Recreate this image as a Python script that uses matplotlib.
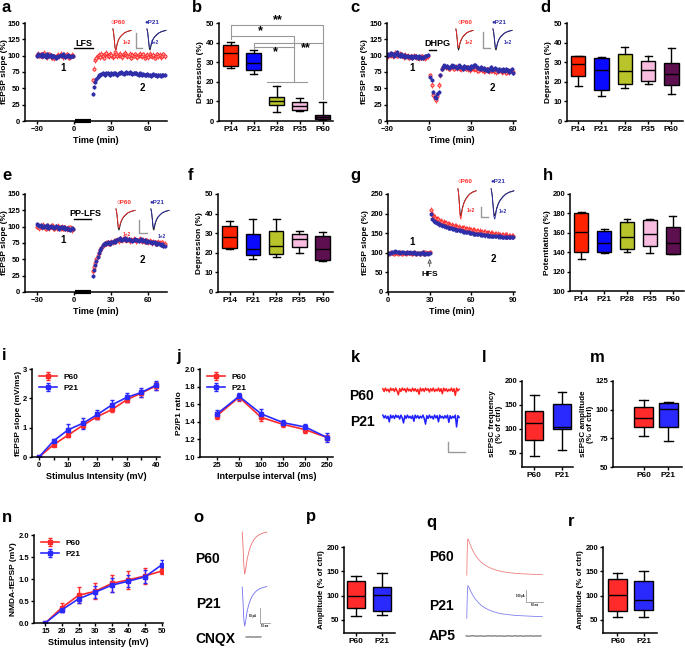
import numpy as np
import matplotlib
matplotlib.use('Agg')
import matplotlib.pyplot as plt
from matplotlib.lines import Line2D

plt.rcParams['font.family'] = ['Liberation Sans', 'DejaVu Sans']
plt.rcParams['font.weight'] = 'bold'
plt.rcParams['axes.labelweight'] = 'bold'

# ---------------- DATA ----------------
# panel a (LFS)
a_base_t0 = -30
a_post_t0 = 15
a_red_base = [101,103,100,102,99,101,104,100,98,101,102,100,97,99,96,98,100,101,99,103,100,98,101,99,102,100,97,99,101,100]
a_blue_base = [100,102,101,99,103,100,101,98,102,100,99,101,98,100,99,97,98,100,99,101,100,102,99,98,100,101,99,98,100,99]
a_red_post = [62,80,93,97,99,101,98,103,100,97,102,104,100,99,103,101,98,100,105,102,99,101,103,100,98,102,104,101,99,100,
              103,97,101,100,102,99,98,101,103,100,99,102,97,100,101,98,103,100,99,101,97,100,102,99,101,98,100,102,99]
a_blue_post = [42,52,60,65,68,70,71,72,73,72,71,73,74,72,71,73,72,74,73,72,71,73,74,75,73,72,74,75,74,73,
               75,74,72,73,74,73,72,71,73,72,71,72,70,71,72,70,71,69,70,72,71,70,69,70,71,69,70,71,70]
# panel c (DHPG)
c_base_t0 = -30
c_post_t0 = 1
c_red_base = [98,100,103,101,99,102,104,100,101,103,102,100,98,101,99,100,97,99,98,100,99,98,97,96,98,99,97,96,98,99]
c_blue_base = [100,103,101,104,102,100,103,105,101,100,102,99,101,98,100,99,98,100,97,99,98,100,97,99,96,98,97,100,99,101]
c_red_post = [70,55,40,35,32,38,55,70,80,83,84,82,83,80,81,84,82,80,83,81,82,80,79,81,83,80,82,79,78,80,
              81,79,80,78,77,79,80,78,76,77,79,78,76,77,78,76,77,75,76,78,77,75,76,77,74,76,75,77,76,75]
c_blue_post = [68,62,45,36,35,42,45,70,80,83,85,82,84,81,83,85,82,84,83,81,85,82,83,80,84,82,81,83,80,84,
               82,85,86,83,81,80,82,79,81,78,80,77,79,82,78,80,81,79,77,80,78,76,79,77,80,78,75,77,79,73]
# panel e (PP-LFS)
e_base_t0 = -30
e_post_t0 = 15
e_red_base = [100,102,98,101,99,103,100,97,99,101,98,100,102,99,97,100,98,101,99,98,100,97,99,98,96,98,97,99,95,97]
e_blue_base = [104,103,101,102,100,99,101,100,102,98,100,101,99,100,98,101,100,99,97,100,99,98,100,97,98,96,97,95,98,96]
e_red_post = [32,38,45,50,55,60,64,68,71,73,74,75,76,74,75,77,76,78,77,79,80,78,81,80,79,82,80,79,81,80,
              78,80,79,81,80,78,79,80,81,79,78,80,77,79,78,76,78,77,75,77,76,74,75,77,75,74,76,73,74]
e_blue_post = [25,33,42,48,54,59,64,68,72,74,75,73,76,75,74,76,77,78,76,80,79,81,83,80,79,81,82,80,79,81,
               80,79,78,80,81,79,80,78,79,81,79,78,80,77,76,78,77,76,75,77,76,74,73,75,74,72,73,71,70]
# panel g (HFS)
g_base_t0 = 0
g_post_t0 = 31
g_red_base = [100,98,101,99,97,100,102,98,99,101,97,99,100,98,101,99,100,97,99,101,98,100,99,97,100,102,98,101,99,100,103]
g_blue_base = [97,100,99,101,103,104,102,101,103,100,102,101,99,100,102,100,101,99,100,102,98,100,99,97,99,101,98,96,100,98,99]
g_red_post = [210,198,192,190,186,185,182,180,179,177,176,175,173,172,171,170,169,168,167,166,165,164,164,163,162,161,160,160,159,158,
              157,157,156,155,155,154,153,153,152,152,151,150,150,149,149,148,148,147,147,146,146,145,145,145,144,144,143,143,143,142]
g_blue_post = [200,186,181,179,177,175,173,172,170,169,168,166,165,164,163,162,161,160,159,158,158,157,156,155,154,153,153,152,151,151,
               150,149,149,148,148,147,147,146,146,145,145,145,144,144,144,143,143,143,142,142,142,141,141,141,141,140,140,140,140,140]
tc_red_sem = 4
tc_blue_sem = 3
g_post_sem = 8

# box plots: (min, q1, median, q3, max)
ages = ['P14', 'P21', 'P28', 'P35', 'P60']
b_stats = [(27, 28, 34.5, 39, 40.5), (24, 26, 29.5, 34.5, 36), (4.5, 8, 10, 12.5, 18), (5, 5.5, 7.5, 9.5, 11.5), (0.5, 1, 2, 3, 9.5)]
d_stats = [(18, 23, 29, 33, 33), (13, 16, 26, 32, 32.5), (17, 19, 25.5, 34, 38), (19, 20.5, 26, 30.5, 33), (14, 18.5, 24, 29.5, 37)]
f_stats = [(22, 22.5, 28, 33.5, 36), (17, 19, 22, 29.5, 37), (18, 19.5, 23.5, 31, 37), (20, 23, 27, 29.5, 31), (16, 16.5, 22, 28.5, 30.5)]
h_stats = [(133, 140, 161, 180, 181), (139, 140.5, 149, 162, 164), (140, 143, 156, 171, 174), (139, 146, 159, 173, 174), (138, 138, 149, 166, 177)]
groups2 = ['P60', 'P21']
l_stats = [(42, 77, 112, 137, 171), (56, 99, 104, 151, 176)]
m_stats = [(77, 85, 93, 102, 108), (73, 85, 101, 106, 107)]
p_stats = [(57, 74, 99, 131, 140), (60, 68, 101, 118, 146)]
r_stats = [(56, 69, 102, 135, 147), (55, 70, 91, 129, 151)]

# input-output / PPF / NMDA curves
i_x = [0, 5, 10, 15, 20, 25, 30, 35, 40]
i_p60 = [0, 0.42, 0.75, 1.08, 1.38, 1.62, 1.95, 2.18, 2.42]
i_p60_sem = [0.02, 0.06, 0.07, 0.1, 0.08, 0.08, 0.07, 0.12, 0.12]
i_p21 = [0, 0.55, 0.93, 1.15, 1.45, 1.78, 2.03, 2.2, 2.45]
i_p21_sem = [0.02, 0.07, 0.18, 0.18, 0.14, 0.15, 0.15, 0.15, 0.15]
j_labels = ['25', '50', '100', '150', '200', '250']
j_p60 = [1.47, 1.68, 1.45, 1.37, 1.31, 1.22]
j_p60_sem = [0.04, 0.04, 0.04, 0.03, 0.04, 0.03]
j_p21 = [1.49, 1.69, 1.49, 1.39, 1.34, 1.22]
j_p21_sem = [0.04, 0.04, 0.05, 0.03, 0.04, 0.05]
n_x = [15, 20, 25, 30, 35, 40, 45, 50]
n_p60 = [0, 0.35, 0.63, 0.72, 0.9, 0.98, 1.07, 1.18]
n_p60_sem = [0.01, 0.1, 0.18, 0.18, 0.2, 0.2, 0.18, 0.06]
n_p21 = [0, 0.3, 0.55, 0.7, 0.86, 0.95, 1.05, 1.32]
n_p21_sem = [0.01, 0.06, 0.1, 0.14, 0.16, 0.13, 0.15, 0.12]

# example traces
fepsp_t = [0, 1, 2, 3, 4, 5, 6, 8, 10, 13, 16, 20, 25]
fepsp_1 = [0.1, -0.1, -0.5, -0.9, -1.0, -0.85, -0.65, -0.45, -0.32, -0.2, -0.1, -0.03, 0.02]
fepsp_2 = [0.1, -0.08, -0.42, -0.78, -0.88, -0.76, -0.6, -0.42, -0.3, -0.18, -0.09, -0.02, 0.03]
k_p60 = [0.2,-0.3,0.3,-0.2,0.1,-0.4,0.3,-0.1,0.2,-0.3,0.3,-0.2,-0.9,0.2,-0.3,0.3,-0.1,0.2,-0.4,0.3,-0.2,0.1,-0.3,0.3,-0.2,0.2,-0.3,0.1,-0.8,0.3,
         -0.2,0.2,-0.3,0.3,-0.1,0.2,-0.4,0.2,-0.2,0.3,-0.3,0.1,-0.2,0.3,-0.3,0.2,-0.7,0.3,-0.2,0.2,-0.3,0.1,-0.2,0.3,-0.3,0.2,-1.0,0.3,-0.2,0.1]
k_p21 = [0.3,-0.2,0.2,-0.3,0.1,-0.9,0.3,-0.2,0.2,-0.3,0.3,-0.1,0.2,-0.4,0.3,-0.2,-1.1,0.2,-0.3,0.3,-0.2,0.1,-0.3,0.2,-0.8,0.3,-0.2,0.2,-0.3,0.1,
         -0.2,0.3,-0.3,-1.3,0.2,-0.3,0.3,-0.2,0.1,-0.4,0.3,-0.2,0.2,-0.9,0.3,-0.2,0.1,-0.3,0.2,-0.2,0.3,-1.0,0.2,-0.3,0.1,-0.2,0.3,-1.8,0.2,-0.1]
o_t = [0, 1, 2, 3, 4, 5, 6, 8, 10, 12, 15, 18, 22, 26, 30]
o_p60 = [0, -0.35, -0.8, -1.0, -0.92, -0.78, -0.65, -0.48, -0.35, -0.26, -0.16, -0.1, -0.05, -0.02, 0.0]
o_p21 = [0, -0.4, -0.85, -1.0, -0.9, -0.75, -0.62, -0.45, -0.33, -0.24, -0.15, -0.09, -0.04, -0.01, 0.01]
o_cnqx = [0.02, -0.03, 0.01, 0.03, -0.02, 0.0, 0.02, -0.04, 0.01, 0.02, -0.01, 0.03]
q_t = [0, 1, 2, 3, 5, 8, 12, 17, 23, 30, 38, 47, 57, 68, 80, 93, 107, 122, 138, 155, 172, 190]
q_p60 = [0, 0.6, 0.95, 1.0, 0.95, 0.86, 0.75, 0.64, 0.53, 0.43, 0.34, 0.27, 0.21, 0.16, 0.12, 0.09, 0.07, 0.05, 0.04, 0.03, 0.02, 0.02]
q_p21 = [0, 0.55, 0.92, 1.0, 0.96, 0.88, 0.78, 0.67, 0.57, 0.47, 0.38, 0.31, 0.25, 0.2, 0.16, 0.13, 0.11, 0.09, 0.08, 0.07, 0.06, 0.06]
q_ap5 = [0.02,-0.03,0.01,0.03,-0.02,0.0,0.02,-0.04,0.01,0.02,-0.01,0.03,-0.02,0.01,0.0,-0.03,0.02,0.01,-0.02,0.03,
         -0.01,0.02,-0.03,0.01,0.0,0.02,-0.02,0.01,-0.01,0.02]

# ---------------- STYLE ----------------
RED = '#FF2A2A'
NAVY = '#2E2EA8'
BLUE = '#2A2AFF'
AGE_COLORS = ['#FF2200', '#0A0AFF', '#B8C42A', '#F7BCE0', '#5E0F50']
GRAY = '#999999'
TICK_FS = 5.5

W, H = 685, 649
fig = plt.figure(figsize=(6.85, 6.49), dpi=100)


def box(l, t, r, b):
    return [l / W, 1 - b / H, (r - l) / W, (b - t) / H]


def fx(x):
    return x / W


def fy(y):
    return 1 - y / H


def ftext(x, y, s, size=6, color='black', ha='center', va='center', **kw):
    fig.text(fx(x), fy(y), s, fontsize=size, color=color, ha=ha, va=va, fontweight='bold', **kw)


def fline(xs, ys, color=GRAY, lw=1.0):
    fig.add_artist(Line2D([fx(v) for v in xs], [fy(v) for v in ys], color=color, lw=lw,
                          transform=fig.transFigure))


def new_axes(l, t, r, b):
    ax = fig.add_axes(box(l, t, r, b))
    for s in ['top', 'right']:
        ax.spines[s].set_visible(False)
    for s in ['left', 'bottom']:
        ax.spines[s].set_linewidth(1.1)
    ax.tick_params(labelsize=TICK_FS, width=1, length=2.2, pad=1.2)
    return ax


def ylab(ax, s, size=6):
    ax.set_ylabel(s, fontsize=size, labelpad=1, linespacing=1.0)


def xlab(ax, s, size=6.5):
    ax.set_xlabel(s, fontsize=size, labelpad=2.5)


def letter(x, y, s):
    ftext(x, y, s, size=12, ha='left', va='center')


def boxes(ax, stats, colors, labels, width=0.62, capw=0.3):
    st = [dict(whislo=s[0], q1=s[1], med=s[2], q3=s[3], whishi=s[4]) for s in stats]
    bp = ax.bxp(st, positions=list(range(len(st))), widths=width, showfliers=False, patch_artist=True,
                capwidths=capw,
                boxprops=dict(lw=1.0), medianprops=dict(color='black', lw=1.0),
                whiskerprops=dict(lw=1.0), capprops=dict(lw=1.0), manage_ticks=False)
    for patch, c in zip(bp['boxes'], colors):
        patch.set_facecolor(c)
    ax.set_xticks(list(range(len(st))))
    ax.set_xticklabels(labels)
    ax.tick_params(axis='x', labelsize=6)


def tc(ax, t0, vals, sem, color, filled):
    t = t0 + np.arange(len(vals))
    ax.errorbar(t, vals, yerr=sem, fmt='o', ms=2.2, color=color, mfc=color if filled else '#FFB0B0',
                mec=color, mew=0.7, elinewidth=0.6, capsize=0)


def inset(bx, t, black, col, color, ylim=(-1.1, 0.2)):
    ax = fig.add_axes(box(*bx))
    ax.plot(t, black, color='black', lw=0.6)
    ax.plot(t, col, color=color, lw=0.6)
    ax.set_ylim(*ylim)
    ax.axis('off')
    return ax


# ---------------- PANEL a ----------------
ax = new_axes(25, 23, 167, 121)
tc(ax, a_base_t0, a_red_base, tc_red_sem, RED, False)
tc(ax, a_base_t0, a_blue_base, tc_blue_sem, NAVY, True)
tc(ax, a_post_t0, a_red_post, tc_red_sem, RED, False)
tc(ax, a_post_t0, a_blue_post, tc_blue_sem, NAVY, True)
ax.set_xlim(-39.7, 75)
ax.set_ylim(0, 150)
ax.set_xticks([-30, 0, 30, 60])
ax.set_yticks([0, 25, 50, 75, 100, 125, 150])
ax.plot([1, 14], [0, 0], color='black', lw=3, solid_capstyle='butt', clip_on=False)
ax.plot([0, 15], [112, 112], color='black', lw=1)
ax.text(8, 119, 'LFS', fontsize=6.5, ha='center', va='center', fontweight='bold')
ax.text(-9, 81, '1', fontsize=7, ha='center', va='center', fontweight='bold')
ax.text(55, 50, '2', fontsize=7, ha='center', va='center', fontweight='bold')
xlab(ax, 'Time (min)')
ftext(4.5, 72, 'fEPSP slope (%)', size=6, rotation=90)
inset((112, 27, 132, 52), fepsp_t, fepsp_1, fepsp_1, RED)
inset((146, 27, 167, 52), fepsp_t, fepsp_1, fepsp_2, NAVY)
ftext(118, 23, '○P60', size=4.5, color=RED)
ftext(152, 23, '●P21', size=4.5, color=NAVY)
ftext(127, 43, '1+2', size=3.5, color=RED)
ftext(155, 43, '1+2', size=3.5, color=NAVY)
fline([136, 136, 142], [33, 48, 48])
letter(2, 8, 'a')

# ---------------- PANEL c ----------------
ax = new_axes(387, 23, 516, 121)
tc(ax, c_base_t0, c_red_base, tc_red_sem, RED, False)
tc(ax, c_base_t0, c_blue_base, tc_blue_sem, NAVY, True)
tc(ax, c_post_t0, c_red_post, tc_red_sem, RED, False)
tc(ax, c_post_t0, c_blue_post, tc_blue_sem, NAVY, True)
ax.set_xlim(-30, 62)
ax.set_ylim(0, 150)
ax.set_xticks([-30, 0, 30, 60])
ax.set_yticks([0, 25, 50, 75, 100, 125, 150])
ax.plot([0, 5], [108, 108], color='black', lw=1)
ax.text(6, 119, 'DHPG', fontsize=6.5, ha='center', va='center', fontweight='bold')
ax.text(-12, 81, '1', fontsize=7, ha='center', va='center', fontweight='bold')
ax.text(45, 50, '2', fontsize=7, ha='center', va='center', fontweight='bold')
xlab(ax, 'Time (min)')
ylab(ax, 'fEPSP slope (%)')
inset((455, 27, 474, 52), fepsp_t, fepsp_1, fepsp_2, RED)
inset((492, 27, 513, 52), fepsp_t, fepsp_1, fepsp_2, NAVY)
ftext(465, 23, '○P60', size=4.5, color=RED)
ftext(499, 23, '●P21', size=4.5, color=NAVY)
ftext(469, 43, '1+2', size=3.5, color=RED)
ftext(508, 43, '1+2', size=3.5, color=NAVY)
fline([483, 483, 490], [32, 48, 48])
letter(350, 8, 'c')

# ---------------- PANEL e ----------------
ax = new_axes(25, 194, 167, 292)
tc(ax, e_base_t0, e_red_base, tc_red_sem, RED, False)
tc(ax, e_base_t0, e_blue_base, tc_blue_sem, NAVY, True)
tc(ax, e_post_t0, e_red_post, tc_red_sem, RED, False)
tc(ax, e_post_t0, e_blue_post, tc_blue_sem, NAVY, True)
ax.set_xlim(-39.7, 75)
ax.set_ylim(0, 150)
ax.set_xticks([-30, 0, 30, 60])
ax.set_yticks([0, 25, 50, 75, 100, 125, 150])
ax.plot([1, 14], [0, 0], color='black', lw=3, solid_capstyle='butt', clip_on=False)
ax.plot([0, 14], [112, 112], color='black', lw=1)
ax.text(9, 120, 'PP-LFS', fontsize=6.5, ha='center', va='center', fontweight='bold')
ax.text(-9, 80, '1', fontsize=7, ha='center', va='center', fontweight='bold')
ax.text(55, 49, '2', fontsize=7, ha='center', va='center', fontweight='bold')
xlab(ax, 'Time (min)')
ftext(4.5, 243, 'fEPSP slope (%)', size=6, rotation=90)
inset((115, 207, 136, 232), fepsp_t, fepsp_1, fepsp_2, RED)
inset((150, 207, 170, 232), fepsp_t, fepsp_1, fepsp_2, NAVY)
ftext(124, 203, '○P60', size=4.5, color=RED)
ftext(157, 203, '●P21', size=4.5, color=NAVY)
ftext(127, 234, '1+2', size=3.5, color=RED)
ftext(162, 236, '1+2', size=3.5, color=NAVY)
fline([139, 139, 147], [220, 233, 233])
letter(2, 176, 'e')

# ---------------- PANEL g ----------------
ax = new_axes(388, 194, 515, 292)
tc(ax, g_base_t0, g_red_base, tc_red_sem, RED, False)
tc(ax, g_base_t0, g_blue_base, tc_blue_sem, NAVY, True)
tc(ax, g_post_t0, g_red_post, g_post_sem, RED, False)
tc(ax, g_post_t0, g_blue_post, g_post_sem - 2, NAVY, True)
ax.set_xlim(0, 91.5)
ax.set_ylim(0, 250)
ax.set_xticks([0, 30, 60, 90])
ax.set_yticks([0, 50, 100, 150, 200, 250])
ax.annotate('', xy=(30, 92), xytext=(30, 58),
            arrowprops=dict(arrowstyle='-|>', fc='white', ec='#555555', lw=0.7, mutation_scale=6))
ax.text(30, 45, 'HFS', fontsize=6, ha='center', va='center', fontweight='bold')
ax.text(17.5, 127, '1', fontsize=7, ha='center', va='center', fontweight='bold')
ax.text(76, 84, '2', fontsize=7, ha='center', va='center', fontweight='bold')
xlab(ax, 'Time (min)')
ylab(ax, 'fEPSP slope (%)')
inset((457, 186, 477, 222), fepsp_t, fepsp_2, fepsp_1, RED)
inset((490, 186, 515, 222), fepsp_t, fepsp_2, fepsp_1, NAVY)
ftext(465, 182, '○P60', size=4.5, color=RED)
ftext(498, 182, '●P21', size=4.5, color=NAVY)
ftext(471, 210, '1+2', size=3.5, color=RED)
ftext(503, 212, '1+2', size=3.5, color=NAVY)
fline([481, 481, 488], [207, 217, 217])
letter(350, 176, 'g')

# ---------------- PANEL b ----------------
ax = new_axes(219, 23, 333, 121)
boxes(ax, b_stats, AGE_COLORS, ages)
ax.set_xlim(-0.5, 4.45)
ax.set_ylim(0, 50)
ax.set_yticks([0, 10, 20, 30, 40, 50])
ylab(ax, 'Depression (%)')
kw = dict(color=GRAY, lw=0.8, clip_on=False)
ax.plot([0, 0, 4, 4], [42, 49, 49, 11], **kw)
ax.plot([0, 2.75, 2.75], [43.5, 43.5, 20], **kw)
ax.plot([1.6, 3.3], [20, 20], **kw)
ax.plot([1, 1, 4], [37, 40, 40], **kw)
ax.plot([1, 2.75], [38, 38], **kw)
ax.text(2.05, 51.5, '**', fontsize=9, ha='center', va='center', fontweight='bold')
ax.text(1.3, 46, '*', fontsize=9, ha='center', va='center', fontweight='bold')
ax.text(1.95, 35, '*', fontsize=9, ha='center', va='center', fontweight='bold')
ax.text(3.25, 37.2, '**', fontsize=9, ha='center', va='center', fontweight='bold')
letter(192, 8, 'b')

# ---------------- PANEL d ----------------
ax = new_axes(567, 23, 683, 121)
boxes(ax, d_stats, AGE_COLORS, ages)
ax.set_xlim(-0.48, 4.5)
ax.set_ylim(0, 50)
ax.set_yticks([0, 10, 20, 30, 40, 50])
ylab(ax, 'Depression (%)')
letter(540, 8, 'd')

# ---------------- PANEL f ----------------
ax = new_axes(218, 194, 333, 292)
boxes(ax, f_stats, AGE_COLORS, ages)
ax.set_xlim(-0.5, 4.45)
ax.set_ylim(0, 50)
ax.set_yticks([0, 10, 20, 30, 40, 50])
ylab(ax, 'Depression (%)')
letter(188, 176, 'f')

# ---------------- PANEL h ----------------
ax = new_axes(570, 194, 684, 291)
boxes(ax, h_stats, AGE_COLORS, ages)
ax.set_xlim(-0.5, 4.5)
ax.set_ylim(100, 200)
ax.set_yticks([100, 120, 140, 160, 180, 200])
ylab(ax, 'Potentiation (%)')
letter(543, 176, 'h')


def curves(ax, x, y1, e1, y2, e2):
    ax.errorbar(x, y1, yerr=e1, color=RED, marker='s', ms=3, lw=1.2, capsize=1.5, elinewidth=1, label='P60')
    ax.errorbar(x, y2, yerr=e2, color=BLUE, marker='s', ms=3, lw=1.2, capsize=1.5, elinewidth=1, label='P21')
    ax.legend(frameon=False, fontsize=6, loc='upper left', handlelength=2.2,
              borderaxespad=0.1, labelspacing=0.4, bbox_to_anchor=(0.02, 1.0))


# ---------------- PANEL i ----------------
ax = new_axes(32, 369, 160, 457)
curves(ax, i_x, i_p60, i_p60_sem, i_p21, i_p21_sem)
ax.set_xlim(-2.4, 41.4)
ax.set_ylim(0, 3)
ax.set_xticks([0, 10, 20, 30, 40])
ax.set_xticks([5, 15, 25, 35], minor=True)
ax.tick_params(which='minor', length=2, width=1)
ax.set_yticks([0, 1, 2, 3])
xlab(ax, 'Stimulus Intensity (mV)')
ylab(ax, 'fEPSP slope (mV/ms)')
letter(2, 355, 'i')

# ---------------- PANEL j ----------------
ax = new_axes(200, 369, 333, 457)
curves(ax, list(range(len(j_labels))), j_p60, j_p60_sem, j_p21, j_p21_sem)
ax.set_xlim(-0.77, 5.25)
ax.set_ylim(1.0, 2.0)
ax.set_xticks(list(range(len(j_labels))))
ax.set_xticklabels(j_labels)
ax.set_yticks([1.0, 1.2, 1.4, 1.6, 1.8, 2.0])
ax.set_yticklabels(['1.0', '1.2', '1.4', '1.6', '1.8', '2.0'])
xlab(ax, 'Interpulse interval (ms)')
ylab(ax, 'P2/P1 ratio')
letter(176, 357, 'j')

# ---------------- PANEL k ----------------
axk1 = fig.add_axes(box(379, 387, 463, 401))
axk1.plot(np.arange(len(k_p60)), k_p60, color='#FF2020', lw=1.1)
axk1.set_ylim(-2.0, 0.5)
axk1.axis('off')
axk2 = fig.add_axes(box(379, 414, 463, 428))
axk2.plot(np.arange(len(k_p21)), k_p21, color='#2020FF', lw=1.1)
axk2.set_ylim(-2.0, 0.5)
axk2.axis('off')
ftext(362, 396, 'P60', size=10)
ftext(362, 422, 'P21', size=10)
fline([448, 448, 465], [442, 452, 452])
letter(351, 357, 'k')

# ---------------- PANEL l ----------------
ax = new_axes(522, 381, 573, 467)
boxes(ax, l_stats, [RED, BLUE], groups2, width=0.65, capw=0.3)
ax.set_xlim(-0.45, 1.4)
ax.set_ylim(20, 200)
ax.set_yticks([50, 100, 150, 200])
ylab(ax, 'sEPSC frequency\n(% of ctrl)', size=5.8)
letter(482, 357, 'l')

# ---------------- PANEL m ----------------
ax = new_axes(613, 381, 682, 467)
boxes(ax, m_stats, [RED, BLUE], groups2, width=0.78, capw=0.35)
ax.set_xlim(-1.25, 1.55)
ax.set_ylim(50, 125)
ax.set_yticks([50, 75, 100, 125])
ylab(ax, 'sEPSC amplitude\n(% of ctrl)', size=5.8)
letter(590, 357, 'm')

# ---------------- PANEL n ----------------
ax = new_axes(34, 535, 163, 623)
curves(ax, n_x, n_p60, n_p60_sem, n_p21, n_p21_sem)
ax.set_xlim(11.6, 50.4)
ax.set_ylim(0, 2.0)
ax.set_xticks(n_x)
ax.set_yticks([0.0, 0.5, 1.0, 1.5, 2.0])
ax.set_yticklabels(['0.0', '0.5', '1.0', '1.5', '2.0'])
xlab(ax, 'Stimulus intensity (mV)')
ylab(ax, 'NMDA-fEPSP (mV)')
letter(2, 517, 'n')

# ---------------- PANEL o ----------------
axo1 = fig.add_axes(box(241, 530, 268, 576))
axo1.plot(o_t, o_p60, color='#F07070', lw=0.6)
axo1.set_ylim(-1.05, 0.05)
axo1.axis('off')
axo2 = fig.add_axes(box(241, 585, 268, 628))
axo2.plot(o_t, o_p21, color='#7070F0', lw=0.6)
axo2.set_ylim(-1.05, 0.05)
axo2.axis('off')
axo3 = fig.add_axes(box(245, 634, 262, 640))
axo3.plot(np.arange(len(o_cnqx)), o_cnqx, color='black', lw=0.5)
axo3.set_ylim(-1, 1)
axo3.axis('off')
ftext(208, 559, 'P60', size=10)
ftext(208, 604, 'P21', size=10)
ftext(215, 639, 'CNQX', size=10)
fline([260, 260, 270], [608, 623, 623], lw=0.6)
ftext(256, 616, '50 pA', size=1.8, ha='right')
ftext(265, 626, '10 ms', size=1.8)
letter(193, 517, 'o')

# ---------------- PANEL p ----------------
ax = new_axes(344, 547, 395, 633)
boxes(ax, p_stats, [RED, BLUE], groups2, width=0.72, capw=0.35)
ax.set_xlim(-0.46, 1.5)
ax.set_ylim(23, 200)
ax.set_yticks([50, 100, 150, 200])
ylab(ax, 'Amplitude (% of ctrl)', size=5.8)
letter(306, 517, 'p')

# ---------------- PANEL q ----------------
axq1 = fig.add_axes(box(463, 537, 546, 577))
axq1.plot(q_t, q_p60, color='#F08080', lw=0.6)
axq1.set_ylim(-0.05, 1.05)
axq1.axis('off')
axq2 = fig.add_axes(box(463, 584, 546, 620))
axq2.plot(q_t, q_p21, color='#8080F0', lw=0.6)
axq2.set_ylim(-0.05, 1.05)
axq2.axis('off')
axq3 = fig.add_axes(box(462, 632, 545, 640))
axq3.plot(np.arange(len(q_ap5)), q_ap5, color='black', lw=0.5)
axq3.set_ylim(-1, 1)
axq3.axis('off')
ftext(429, 557, 'P60', size=10, ha='left')
ftext(429, 606, 'P21', size=10, ha='left')
ftext(429, 636, 'AP5', size=10, ha='left')
fline([526, 526, 543], [590, 602, 602], lw=0.6)
ftext(524, 596, '100 pA', size=1.8, ha='right')
ftext(535, 605, '50 ms', size=1.8)
letter(426, 522, 'q')

# ---------------- PANEL r ----------------
ax = new_axes(603, 547, 657, 633)
boxes(ax, r_stats, [RED, BLUE], groups2, width=0.72, capw=0.35)
ax.set_xlim(-0.55, 1.5)
ax.set_ylim(23, 200)
ax.set_yticks([50, 100, 150, 200])
ylab(ax, 'Amplitude (% of ctrl)', size=5.8)
letter(568, 522, 'r')

fig.savefig('out.png', dpi=100)
